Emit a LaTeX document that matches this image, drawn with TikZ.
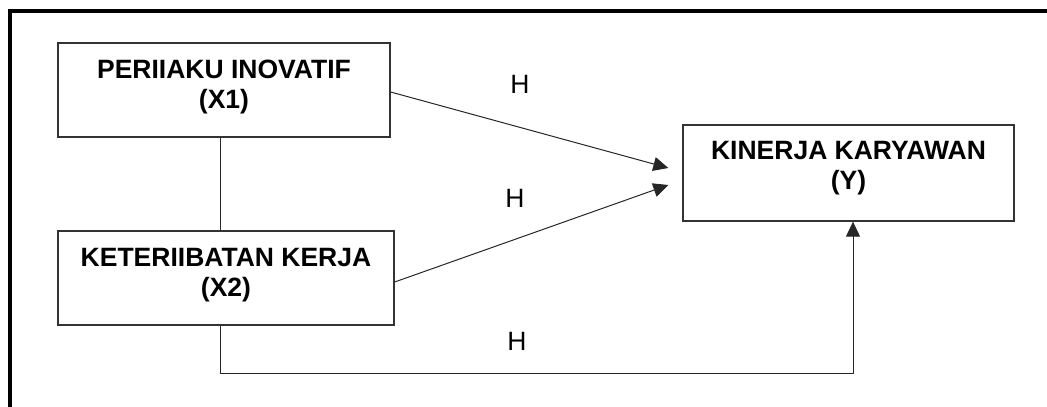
\documentclass[tikz,border=0pt]{standalone}
\usepackage{fontspec}
\setmainfont{Liberation Sans}
\usetikzlibrary{arrows.meta}
\begin{document}
\begin{tikzpicture}[x=1pt,y=-1pt,
  varbox/.style={draw=black!80,line width=1.3pt,inner sep=0pt},
  boxtext/.style={align=center,inner sep=0pt,font=\fontsize{26.5}{30.5}\selectfont\bfseries},
  htext/.style={inner sep=0pt,font=\fontsize{26.5}{30.5}\selectfont},
  link/.style={draw=black!85,line width=1pt},
  arr/.style={link,-{Triangle[length=15pt,width=14pt]}}]
\useasboundingbox (0,0) rectangle (1047,407);
% outer frame (top and left edges)
\draw[line width=4pt,line join=miter] (10,407) -- (10,11.3) -- (1047,11.3);

% variable boxes
\node[varbox,minimum width=332pt,minimum height=94pt] (x1) at (224,90) {};
\node[boxtext] (x1t) at ([yshift=3pt]x1.center) {PERIIAKU INOVATIF\\(X1)};
\node[varbox,minimum width=336pt,minimum height=94pt] (x2) at (226,278) {};
\node[boxtext] (x2t) at ([yshift=3pt]x2.center) {KETERIIBATAN KERJA\\(X2)};
\node[varbox,minimum width=331pt,minimum height=96pt] (y) at (848.5,173) {};
\node[boxtext] (yt) at ([yshift=5pt]y.center) {KINERJA KARYAWAN\\(Y)};

% routing points
\coordinate (bl) at (220,373);
\coordinate (br) at (853,373);

% correlation between X1 and X2
\draw[link] (bl |- x1.south) -- (bl |- x2.north);

% direct effects
\draw[arr] ([yshift=-2pt]x1.east) -- ([xshift=-14pt,yshift=5pt]y.west);
\draw[arr] ([yshift=-4pt]x2.east) -- ([xshift=-14pt,yshift=-12pt]y.west);
\draw[arr] (bl |- x2.south) -- (bl) -- (br) -- (br |- y.south);

% hypothesis labels
\node[htext] (h1) at (520,84.5) {H};
\node[htext] (h2) at (515,198) {H};
\node[htext] (h3) at (517,341) {H};
\end{tikzpicture}
\end{document}
